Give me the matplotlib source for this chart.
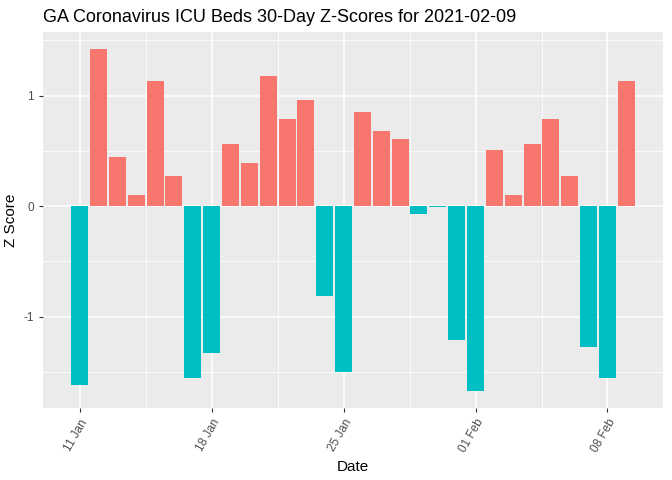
import numpy as np
import pandas as pd
import matplotlib
matplotlib.use("Agg")
import matplotlib.pyplot as plt
import matplotlib.dates as mdates
from matplotlib.ticker import FixedLocator, FuncFormatter

plt.rcParams['font.family'] = ['Liberation Sans', 'DejaVu Sans']
plt.rcParams['axes.unicode_minus'] = False

# data
dates = pd.date_range("2021-01-11", "2021-02-09", freq="D")
z_scores = [-1.62, 1.42, 0.44, 0.10, 1.13, 0.27, -1.55, -1.33, 0.56, 0.39,
            1.18, 0.79, 0.96, -0.81, -1.50, 0.85, 0.68, 0.61, -0.07, -0.01,
            -1.21, -1.67, 0.51, 0.10, 0.56, 0.79, 0.27, -1.27, -1.55, 1.13]
tick_dates = pd.to_datetime(["2021-01-11", "2021-01-18", "2021-01-25",
                             "2021-02-01", "2021-02-08"])

pos_color = '#F8766D'
neg_color = '#00BFC4'

fig = plt.figure(figsize=(6.72, 4.8), dpi=100)
ax = fig.add_axes([43/672, (480-408)/480, (663-43)/672, (408-32)/480])
ax.set_facecolor('#EBEBEB')

x = mdates.date2num(dates)
colors = [pos_color if v > 0 else neg_color for v in z_scores]
ax.bar(x, z_scores, width=0.9, color=colors, zorder=3)

# ggplot-like limits (5% expansion)
lo, hi = x.min() - 0.45, x.max() + 0.45
pad = (hi - lo) * 0.05
ax.set_xlim(lo - pad, hi + pad)
ymin, ymax = min(z_scores), max(z_scores)
ypad = (ymax - ymin) * 0.05
ax.set_ylim(ymin - ypad, ymax + ypad)

major_x = mdates.date2num(tick_dates)
ax.xaxis.set_major_locator(FixedLocator(major_x))
ax.xaxis.set_minor_locator(FixedLocator(list(major_x[:-1] + 3.5) + [major_x[0] - 3.5, major_x[-1] + 3.5]))
ax.xaxis.set_major_formatter(FuncFormatter(lambda v, p: mdates.num2date(v).strftime('%d %b')))
ax.yaxis.set_major_locator(FixedLocator([-1, 0, 1]))
ax.yaxis.set_minor_locator(FixedLocator([-1.5, -0.5, 0.5, 1.5]))
ax.yaxis.set_major_formatter(FuncFormatter(lambda v, p: f"{int(v)}"))

ax.grid(which='major', color='white', linewidth=1.1, zorder=1)
ax.grid(which='minor', color='white', linewidth=0.55, zorder=1)
for s in ax.spines.values():
    s.set_visible(False)
ax.tick_params(which='major', length=3, color='#333333', labelcolor='#4D4D4D',
               labelsize=8.5, width=0.8)
ax.tick_params(which='minor', length=0)
plt.setp(ax.get_xticklabels(), rotation=60, ha='right', va='top', rotation_mode='anchor')

ax.set_xlabel('Date', fontsize=11, labelpad=4)
ax.set_ylabel('Z Score', fontsize=11, labelpad=4)
fig.text(43/672, 1 - 17/480, 'GA Coronavirus ICU Beds 30-Day Z-Scores for 2021-02-09',
         fontsize=13, ha='left', va='center')

fig.savefig('out.png', dpi=100, facecolor='white')
